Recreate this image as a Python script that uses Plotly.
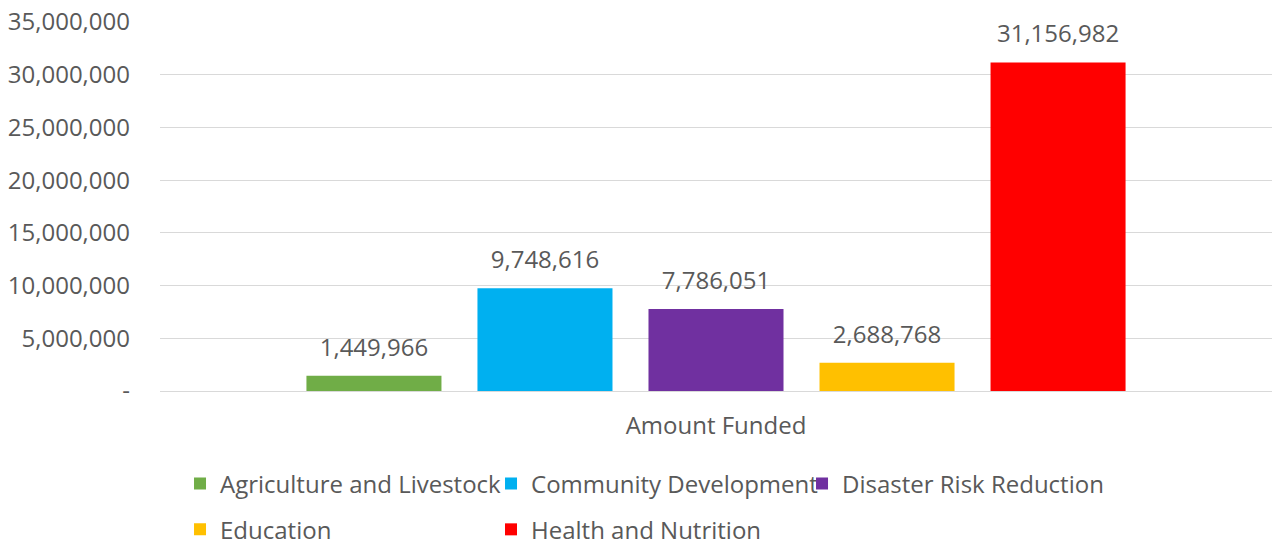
import plotly.graph_objects as go

category = ["Amount Funded"]
series_names = ["Agriculture and Livestock", "Community Development", "Disaster Risk Reduction",
                "Education", "Health and Nutrition"]
series_values = [1449966, 9748616, 7786051, 2688768, 31156982]
series_colors = ["#70AD47", "#00B0F0", "#7030A0", "#FFC000", "#FF0000"]
series_legend = ["legend", "legend", "legend", "legend2", "legend2"]
y_tickvals = [0, 5000000, 10000000, 15000000, 20000000, 25000000, 30000000, 35000000]
y_ticktext = ["-", "5,000,000", "10,000,000", "15,000,000", "20,000,000", "25,000,000",
              "30,000,000", "35,000,000"]

FONT = "Open Sans"
GRAY = "#595959"
BARGAP = 0.231

fig = go.Figure()
for name, val, col, lg in zip(series_names, series_values, series_colors, series_legend):
    fig.add_trace(go.Bar(
        x=category, y=[val], name=name, marker=dict(color=col, line=dict(width=0)),
        legend=lg, offsetgroup=name, hovertemplate="%{y:,}<extra>" + name + "</extra>",
    ))
# data labels: text-only scatter traces grouped the same way as the bars
for name, val in zip(series_names, series_values):
    fig.add_trace(go.Scatter(
        x=category, y=[val], mode="markers+text", text=[f"{val:,}"],
        textposition="top center", marker=dict(size=21, opacity=0),
        textfont=dict(family=FONT, size=24, color=GRAY),
        showlegend=False, hoverinfo="skip", cliponaxis=False, offsetgroup=name,
    ))

fig.update_layout(
    width=1276, height=545,
    margin=dict(l=160, r=4, t=22, b=154, autoexpand=False),
    paper_bgcolor="white", plot_bgcolor="white",
    barmode="group", bargap=BARGAP, bargroupgap=0.2105,
    scattermode="group", scattergap=BARGAP,
    font=dict(family=FONT, size=24, color=GRAY),
    showlegend=True,
    legend=dict(orientation="h", x=0.018, xanchor="left", y=-0.252, yanchor="middle",
                entrywidth=266, entrywidthmode="pixels",
                font=dict(family=FONT, size=24, color=GRAY), bgcolor="rgba(0,0,0,0)"),
    legend2=dict(orientation="h", x=0.018, xanchor="left", y=-0.376, yanchor="middle",
                 entrywidth=266, entrywidthmode="pixels",
                 font=dict(family=FONT, size=24, color=GRAY), bgcolor="rgba(0,0,0,0)"),
)
fig.update_yaxes(range=[0, 35000000], tickvals=y_tickvals, ticktext=y_ticktext,
                 showgrid=True, gridcolor="#D9D9D9", gridwidth=1,
                 zeroline=True, zerolinecolor="#D9D9D9", zerolinewidth=1,
                 showline=False, ticks="", ticklabelstandoff=29, automargin=False,
                 ticklabeloverflow="allow",
                 tickfont=dict(family=FONT, size=24, color=GRAY))
fig.update_xaxes(showgrid=False, showline=False, ticks="", ticklabelstandoff=18, automargin=False,
                 tickfont=dict(family=FONT, size=24, color=GRAY))

fig.write_html("out.html", config={"displayModeBar": False},
               post_script="document.body.style.margin='0';document.body.style.overflow='hidden';")
